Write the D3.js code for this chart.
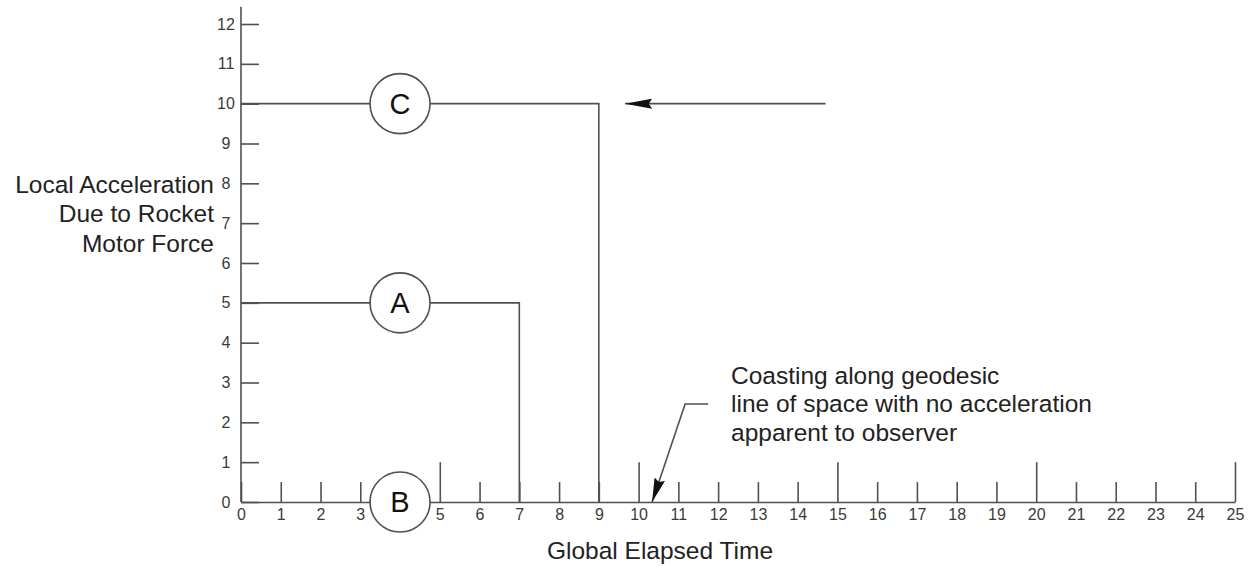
<!DOCTYPE html>
<html>
<head>
<meta charset="utf-8">
<script src="https://cdn.jsdelivr.net/npm/d3@7/dist/d3.min.js"></script>
<style>
  html, body { margin: 0; padding: 0; background: #fff; }
  svg { display: block; font-family: "Liberation Sans", Arial, sans-serif; }
</style>
</head>
<body>
<svg id="chart" width="1255" height="567"></svg>
<script>
// ---- data ----
const xTickValues = d3.range(0, 26);          // 0..25
const xMajorTicks = [5, 10, 15, 20, 25];
const xHiddenLabels = [4];                    // covered by circle B
const yTickValues = d3.range(0, 13);          // 0..12
const yTitleLines = ["Local Acceleration", "Due to Rocket", "Motor Force"];
const xTitle = "Global Elapsed Time";

// acceleration profiles: constant level until burn end, then drop to 0
const profileNames  = ["A", "C"];
const profileLevels = [5, 10];
const profileEnds   = [7, 9];

// labelled circles placed on the profiles
const circleLabels = ["A", "B", "C"];
const circleX      = [4, 4, 4];
const circleY      = [5, 0, 10];

// arrow pointing at the C profile
const arrowFrom = [14.7, 10];
const arrowTo   = [9.66, 10];

// annotation and its leader
const noteLines  = ["Coasting along geodesic", "line of space with no acceleration", "apparent to observer"];
const leaderPts  = [[11.75, 2.46], [11.17, 2.46], [10.34, 0]];

// ---- layout ----
const svg = d3.select("#chart");
const x = d3.scaleLinear().domain([0, 25]).range([241, 1235]);
const y = d3.scaleLinear().domain([0, 12]).range([502, 24]);
const axisColor = "#505050";
const textColor = "#222";
const font = "'Liberation Sans', Arial, sans-serif";

const defs = svg.append("defs");
function addHead(id, len, wid) {
  defs.append("marker")
    .attr("id", id).attr("viewBox", `0 0 ${len} ${wid}`)
    .attr("refX", len).attr("refY", wid / 2)
    .attr("markerWidth", len).attr("markerHeight", wid)
    .attr("markerUnits", "userSpaceOnUse")
    .attr("orient", "auto")
    .append("path").attr("d", `M0,0 L${len},${wid / 2} L0,${wid} L${len * 0.12},${wid / 2} Z`)
    .attr("fill", "#111");
}
addHead("headA", 27, 10);
addHead("headB", 24, 11);

// y axis line
svg.append("line")
  .attr("x1", x(0)).attr("x2", x(0))
  .attr("y1", y(0)).attr("y2", y(12.43))
  .attr("stroke", axisColor).attr("stroke-width", 1.6);

// y axis ticks & labels
const yAxis = svg.append("g").attr("transform", `translate(${x(0)},0)`)
  .call(d3.axisLeft(y).tickValues(yTickValues).tickSize(-18).tickFormat(d3.format("d")));
yAxis.select(".domain").remove();
yAxis.selectAll(".tick line").attr("stroke", axisColor).attr("stroke-width", 1.6);
yAxis.selectAll(".tick text")
  .attr("x", -15).attr("text-anchor", "middle")
  .attr("fill", "#3a3a3a").style("font-size", "16px").style("font-family", font);

// x axis with upward ticks
const xAxis = svg.append("g").attr("transform", `translate(0,${y(0)})`)
  .call(d3.axisBottom(x).tickValues(xTickValues).tickSize(0).tickSizeOuter(0).tickPadding(7)
    .tickFormat(d => xHiddenLabels.includes(d) ? "" : d3.format("d")(d)));
xAxis.select(".domain").attr("stroke", axisColor).attr("stroke-width", 1.6);
xAxis.selectAll(".tick line")
  .attr("y2", d => xMajorTicks.includes(d) ? y(1) - y(0) : y(0.5) - y(0))
  .attr("stroke", axisColor).attr("stroke-width", 1.6);
xAxis.selectAll(".tick text")
  .attr("fill", "#3a3a3a").style("font-size", "16px").style("font-family", font);

// profiles
const line = d3.line().x(d => x(d[0])).y(d => y(d[1]));
profileNames.forEach((n, i) => {
  svg.append("path")
    .attr("d", line([[0, profileLevels[i]], [profileEnds[i], profileLevels[i]], [profileEnds[i], 0]]))
    .attr("fill", "none").attr("stroke", axisColor).attr("stroke-width", 1.6);
});

// circles
const cg = svg.selectAll("g.circ").data(circleLabels).enter().append("g").attr("class", "circ")
  .attr("transform", (d, i) => `translate(${x(circleX[i])},${y(circleY[i])})`);
cg.append("circle").attr("r", 30).attr("fill", "#fff").attr("stroke", axisColor).attr("stroke-width", 1.6);
cg.append("text").text(d => d).attr("text-anchor", "middle").attr("dy", "0.36em")
  .attr("fill", "#111").style("font-size", "29px");

// arrow at C level
svg.append("line")
  .attr("x1", x(arrowFrom[0])).attr("y1", y(arrowFrom[1]))
  .attr("x2", x(arrowTo[0])).attr("y2", y(arrowTo[1]))
  .attr("stroke", axisColor).attr("stroke-width", 1.6)
  .attr("marker-end", "url(#headA)");

// leader for annotation
svg.append("path")
  .attr("d", line(leaderPts))
  .attr("fill", "none").attr("stroke", axisColor).attr("stroke-width", 1.6)
  .attr("marker-end", "url(#headB)");

// annotation text
svg.append("g").selectAll("text").data(noteLines).enter().append("text")
  .attr("x", 731).attr("y", (d, i) => 375 + i * 28.5).attr("dy", "0.36em")
  .attr("fill", textColor).style("font-size", "24.5px").text(d => d);

// y title
svg.append("g").selectAll("text").data(yTitleLines).enter().append("text")
  .attr("x", 214).attr("y", (d, i) => 184 + i * 29.5).attr("dy", "0.36em")
  .attr("text-anchor", "end").attr("fill", textColor).style("font-size", "24.5px").text(d => d);

// x title
svg.append("text").attr("x", 660).attr("y", 550).attr("dy", "0.36em")
  .attr("text-anchor", "middle").attr("fill", textColor).style("font-size", "24.5px").text(xTitle);
</script>
</body>
</html>
